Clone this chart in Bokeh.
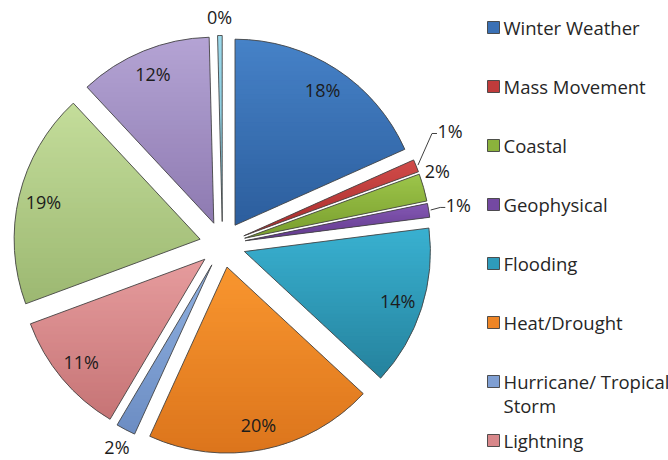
import math
from bokeh.plotting import figure
from bokeh.models import Range1d, ColumnDataSource
from bokeh.embed import file_html
from bokeh.resources import INLINE
from bokeh.core.properties import value

# ---------------- data ----------------
categories = ["Winter Weather", "Mass Movement", "Coastal", "Geophysical", "Flooding",
              "Heat/Drought", "Hurricane/ Tropical Storm", "Lightning",
              "Severe Storm", "Tornado", "Wildfire"]
shares = [18.4, 1.1, 2.4, 1.2, 14.0, 20.0, 1.7, 10.9, 18.8, 11.6, 0.4]
# the legend box only shows the first eight entries
legend_labels = ["Winter Weather", "Mass Movement", "Coastal", "Geophysical", "Flooding",
                 "Heat/Drought", "Hurricane/ Tropical\nStorm", "Lightning"]

# palette: light (top) and dark (bottom) end of each slice's gradient
pal_top = ["#4682c8", "#d24c4a", "#9dc64b", "#8559b5", "#39b1d1", "#f9962f",
           "#90b1e1", "#e69c9d", "#c4dd9b", "#b4a4d4", "#9bd9eb"]
pal_bot = ["#2c5e9d", "#a72b2b", "#799d2d", "#62398c", "#25829d", "#dc751c",
           "#6c8dc3", "#c67476", "#9cb871", "#8e7ab1", "#7bbfd3"]
pal_mid = ["#3a70b5", "#c03b3b", "#8bb23c", "#7449a2", "#2e9bbb", "#ee8526",
           "#7f9fd3", "#d8878a", "#b1cb87", "#a290c3", "#8bcde0"]

# ---------------- layout ----------------
W, H = 668, 460
FONT = "Open Sans"
p = figure(width=W, height=H, x_range=Range1d(0, W), y_range=Range1d(0, H),
           output_backend="svg", toolbar_location=None,
           x_axis_location=None, y_axis_location=None, min_border=0)
p.outline_line_color = None
p.grid.visible = False

CX, CY = 222, H - 244
R = 186
EXPLODE = 23
IN_R = 161      # label distance from the exploded slice centre
OUT_R = 228     # outside label distance from pie centre
NBANDS = 40

total = sum(shares)
starts, ends, mids = [], [], []
cum = 0.0
for s in shares:
    a0 = cum / total * 360.0
    cum += s
    a1 = cum / total * 360.0
    starts.append(a0); ends.append(a1); mids.append((a0 + a1) / 2)

def math_ang(deg):
    return math.radians(90.0 - deg)

def hexrgb(h):
    h = h.lstrip("#")
    return [int(h[k:k + 2], 16) for k in (0, 2, 4)]

def mix(c1, c2, t):
    a, b = hexrgb(c1), hexrgb(c2)
    return "#%02x%02x%02x" % tuple(int(round(a[k] + (b[k] - a[k]) * t)) for k in range(3))

def clip(poly, yv, keep_above):
    out = []
    n = len(poly)
    for k in range(n):
        P, Q = poly[k], poly[(k + 1) % n]
        pin = (P[1] >= yv) if keep_above else (P[1] <= yv)
        qin = (Q[1] >= yv) if keep_above else (Q[1] <= yv)
        if pin:
            out.append(P)
        if pin != qin:
            t = (yv - P[1]) / (Q[1] - P[1])
            out.append((P[0] + t * (Q[0] - P[0]), yv))
    return out

sx = [CX + EXPLODE * math.sin(math.radians(m)) for m in mids]
sy = [CY + EXPLODE * math.cos(math.radians(m)) for m in mids]

# gradient fill: each slice polygon cut into horizontal bands
bx, by, bc = [], [], []
for i in range(len(shares)):
    poly = [(sx[i], sy[i])]
    steps = max(4, int((ends[i] - starts[i]) * 2))
    for k in range(steps + 1):
        a = math.radians(starts[i] + (ends[i] - starts[i]) * k / steps)
        poly.append((sx[i] + R * math.sin(a), sy[i] + R * math.cos(a)))
    ytop = max(q[1] for q in poly)
    ybot = min(q[1] for q in poly)
    hgt = ytop - ybot
    for b in range(NBANDS):
        hi = ytop - hgt * b / NBANDS
        lo = ytop - hgt * (b + 1) / NBANDS
        piece = clip(clip(poly, lo - 0.7, True), hi + 0.7, False)
        if len(piece) < 3:
            continue
        bx.append([q[0] for q in piece]); by.append([q[1] for q in piece])
        bc.append(mix(pal_top[i], pal_bot[i], (b + 0.5) / NBANDS))
p.patches(xs=bx, ys=by, fill_color=bc, line_color=None)

src = ColumnDataSource(dict(x=sx, y=sy,
                            start=[math_ang(e) for e in ends],
                            end=[math_ang(s) for s in starts]))
p.wedge(x="x", y="y", radius=R, start_angle="start", end_angle="end",
        direction="anticlock", fill_color=None, line_color="#454545",
        line_width=0.9, source=src)

# ---------------- data labels ----------------
pct_text = [f"{round(s / total * 100)}%" for s in shares]
tweak = {1: (254, -4.3, True), 2: (227, -3.0, False), 3: (239, 0.0, True)}
lx, ly, lt = [], [], []
lead_x, lead_y = [], []
for i, s in enumerate(shares):
    frac = s / total
    if frac >= 0.03:
        x = sx[i] + IN_R * math.sin(math.radians(mids[i]))
        y = sy[i] + IN_R * math.cos(math.radians(mids[i]))
    else:
        rr, dang, leader = tweak.get(i, (OUT_R, 0.0, False))
        a = math.radians(mids[i] + dang)
        x = CX + rr * math.sin(a)
        y = CY + rr * math.cos(a)
        if leader:
            m = math.radians(mids[i])
            x0 = CX + (R + EXPLODE + 2) * math.sin(m)
            y0 = CY + (R + EXPLODE + 2) * math.cos(m)
            left = x - 12
            lead_x.append([x0, left - 6, left - 1])
            lead_y.append([y0, y - 2, y - 2])
    lx.append(x); ly.append(y); lt.append(pct_text[i])

p.multi_line(xs=lead_x, ys=lead_y, line_color="#404040", line_width=1)
p.text(x=lx, y=ly, text=lt, text_align="center", text_baseline="middle",
       text_font=value(FONT), text_font_size="18px", text_color="#1c1c1c")

# ---------------- legend ----------------
LEG_X, LEG_Y0, LEG_STEP, LINE_H = 493, 27, 59, 24
sq_x, sq_y, sq_c = [], [], []
tx, ty, tt = [], [], []
for i, lab in enumerate(legend_labels):
    yy = H - (LEG_Y0 + LEG_STEP * i)
    sq_x.append(LEG_X); sq_y.append(yy); sq_c.append(pal_mid[i])
    for j, line in enumerate(lab.split("\n")):
        tx.append(LEG_X + 10); ty.append(yy - j * LINE_H); tt.append(line)
p.rect(x=sq_x, y=sq_y, width=12, height=12, fill_color=sq_c,
       line_color="#404040", line_width=0.9)
p.text(x=tx, y=ty, text=tt, text_align="left", text_baseline="middle",
       text_font=value(FONT), text_font_size="18.5px", text_color="#262626")

open("out.html", "w").write(file_html(p, INLINE))
